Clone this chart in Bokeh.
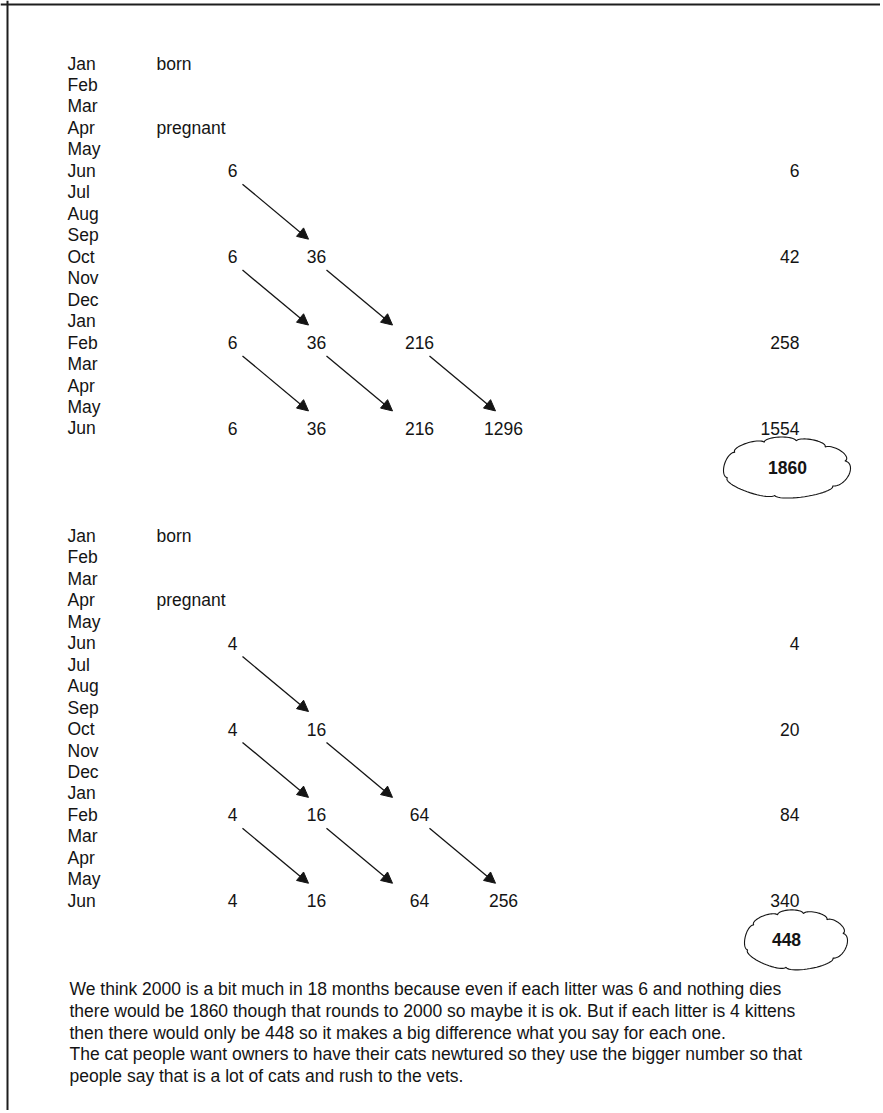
import numpy as np
from bokeh.plotting import figure
from bokeh.models import Range1d, ColumnDataSource, Arrow, NormalHead, Span
from bokeh.embed import file_html
from bokeh.resources import INLINE
from bokeh.core.properties import value

# ---------------- data ----------------
months = ["Jan", "Feb", "Mar", "Apr", "May", "Jun", "Jul", "Aug", "Sep",
          "Oct", "Nov", "Dec", "Jan", "Feb", "Mar", "Apr", "May", "Jun"]
stage_labels = ["born", "pregnant"]
stage_rows = [0, 3]

# each litter generation: row (month index), column (generation), count
cell_rows = [5, 9, 9, 13, 13, 13, 17, 17, 17, 17]
cell_cols = [0, 0, 1, 0, 1, 2, 0, 1, 2, 3]
litter6_vals = [6, 6, 36, 6, 36, 216, 6, 36, 216, 1296]
litter4_vals = [4, 4, 16, 4, 16, 64, 4, 16, 64, 256]

total_rows = [5, 9, 13, 17]
litter6_totals = [6, 42, 258, 1554]
litter4_totals = [4, 20, 84, 340]
litter6_grand = 1860
litter4_grand = 448

note_lines = [
    "We think 2000 is a bit much in 18 months because even if each litter was 6 and nothing dies",
    "there would be 1860 though that rounds to 2000 so maybe it is ok. But if each litter is 4 kittens",
    "then there would only be 448 so it makes a big difference what you say for each one.",
    "The cat people want owners to have their cats newtured so they use the bigger number so that",
    "people  say that is a lot of cats and rush to the vets.",
]

# ---------------- layout ----------------
W, H = 880, 1110
ROW_H = 21.47          # px per row
FIRST_Y = 63           # page y of first row
SECTION_OFFSET = [0, 22]
MONTH_X = 67
STAGE_X = 156
COL_X = [232, 316, 419, 503]
TOTAL_X = 799
CLOUD_TEXT_X = [787, 786]
CLOUD_ROW = 18.82
CLOUD_BOX = [(723, 850, 30.5), (744, 847, 30.0)]   # x0, x1, half height px
NOTE_X = 69
NOTE_ROW0 = 43.12
NOTE_STEP = 1.01
FS = "17.5px"

FONT = value("Liberation Sans")
INK = "#141414"

p = figure(width=W, height=H,
           x_range=Range1d(0, W),
           y_range=Range1d((H - FIRST_Y) / ROW_H, (0 - FIRST_Y) / ROW_H),
           output_backend="svg", toolbar_location=None,
           x_axis_location=None, y_axis_location=None,
           min_border=0, outline_line_color=None,
           background_fill_color="white", border_fill_color="white")
p.grid.visible = False

# page border (top and left edges of the scanned sheet)
p.add_layout(Span(location=7, dimension="height", line_color="#1e1e1e", line_width=2))
p.add_layout(Span(location=(4 - FIRST_Y) / ROW_H, dimension="width",
                  line_color="#1e1e1e", line_width=2))


def cloud_path(x0, x1, cy_row, hh):
    # bumpy outline normalised to the box
    angles = np.radians([-160, -100, -40, 15, 50, 80, 110, 145, 200])
    bulges = [0.35, 0.35, 0.45, 0.5, 0.5, 0.5, 0.45, 0.3]
    xs, ys = [], []
    for i in range(len(angles) - 1):
        p1 = np.array([np.cos(angles[i]), 0.8 * np.sin(angles[i])])
        p2 = np.array([np.cos(angles[i + 1]), 0.8 * np.sin(angles[i + 1])])
        m = (p1 + p2) / 2
        d = p2 - p1
        h = np.linalg.norm(d) / 2
        u = d / (2 * h)
        n = np.array([u[1], -u[0]])
        if np.dot(n, m) < 0:
            n = -n
        t = np.linspace(0, np.pi, 24)
        pts = m[None, :] - np.outer(np.cos(t), u) * h + np.outer(np.sin(t), n) * bulges[i] * h
        xs.extend(pts[:, 0])
        ys.extend(pts[:, 1])
    xs, ys = np.array(xs), np.array(ys)
    xs = (xs - xs.min()) / (xs.max() - xs.min())
    ys = (ys - ys.min()) / (ys.max() - ys.min())
    px = x0 + xs * (x1 - x0)
    py = (ys - 0.5) * 2 * hh          # px, up positive
    return list(px), list(cy_row - py / ROW_H)


sections = [(litter6_vals, litter6_totals, litter6_grand),
            (litter4_vals, litter4_totals, litter4_grand)]

for s, (vals, totals, grand) in enumerate(sections):
    off = SECTION_OFFSET[s]
    # months
    p.text(x=[MONTH_X] * len(months), y=[off + i for i in range(len(months))], text=months,
           text_font=FONT, text_font_size=FS, text_baseline="middle",
           text_align="left", text_color=INK)
    # stages
    p.text(x=[STAGE_X] * len(stage_labels), y=[off + r for r in stage_rows], text=stage_labels,
           text_font=FONT, text_font_size=FS, text_baseline="middle",
           text_align="left", text_color=INK)
    # cells
    p.text(x=[COL_X[c] for c in cell_cols], y=[off + r for r in cell_rows],
           text=[str(v) for v in vals],
           text_font=FONT, text_font_size=FS, text_baseline="middle",
           text_align="center", text_color=INK)
    # totals
    p.text(x=[TOTAL_X] * len(totals), y=[off + r for r in total_rows],
           text=[str(v) for v in totals],
           text_font=FONT, text_font_size=FS, text_baseline="middle",
           text_align="right", text_color=INK)
    # arrows: each count feeds the next generation four months later
    xs, ys, xe, ye = [], [], [], []
    last = max(cell_rows)
    for r, c in zip(cell_rows, cell_cols):
        if r < last:
            x_start = COL_X[c] + 10
            xs.append(x_start)
            ys.append(off + r + 0.62)
            xe.append(x_start + 66)
            ye.append(off + r + 0.62 + 55 / ROW_H)
    src = ColumnDataSource(dict(xs=xs, ys=ys, xe=xe, ye=ye))
    p.add_layout(Arrow(end=NormalHead(size=11, fill_color=INK, line_color=INK, line_width=1),
                       x_start="xs", y_start="ys", x_end="xe", y_end="ye", source=src,
                       line_color=INK, line_width=1.3))
    # cloud with grand total
    x0, x1, hh = CLOUD_BOX[s]
    cx, cy = cloud_path(x0, x1, off + CLOUD_ROW, hh)
    p.line(cx, cy, line_color=INK, line_width=1.1)
    p.text(x=[CLOUD_TEXT_X[s]], y=[off + CLOUD_ROW], text=[str(grand)],
           text_font=FONT, text_font_size=FS, text_font_style="bold",
           text_baseline="middle", text_align="center", text_color=INK)

# explanatory note
p.text(x=[NOTE_X] * len(note_lines),
       y=[NOTE_ROW0 + i * NOTE_STEP for i in range(len(note_lines))],
       text=note_lines, text_font=FONT, text_font_size=FS,
       text_baseline="middle", text_align="left", text_color=INK)

open("out.html", "w").write(file_html(p, INLINE))
